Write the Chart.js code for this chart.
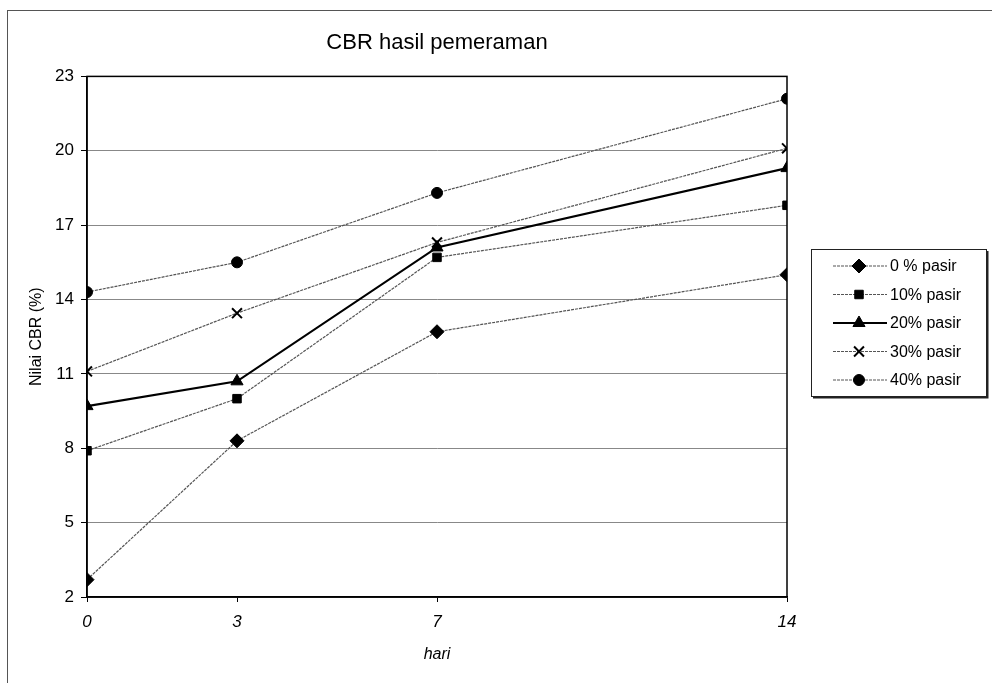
<!DOCTYPE html>
<html>
<head>
<meta charset="utf-8">
<title>CBR hasil pemeraman</title>
<script src="https://cdn.jsdelivr.net/npm/chart.js@4.4.1/dist/chart.umd.min.js"></script>
<style>
  html, body { margin: 0; padding: 0; background: #fff; }
  #wrap { position: relative; width: 992px; height: 683px; }
</style>
</head>
<body>
<div id="wrap"><canvas id="cbr-chart" width="992" height="683"></canvas></div>
<script>
// curing time (days) and CBR values for each sand content
var hari = [0, 3, 7, 14];
var pasir0 = [2.7, 8.3, 12.7, 15.0];
var pasir10 = [7.9, 10.0, 15.7, 17.8];
var pasir20 = [9.7, 10.7, 16.1, 19.3];
var pasir30 = [11.1, 13.45, 16.3, 20.1];
var pasir40 = [14.3, 15.5, 18.3, 22.1];
var seriesLabels = ['0 % pasir', '10% pasir', '20% pasir', '30% pasir', '40% pasir'];
var yTicks = [2, 5, 8, 11, 14, 17, 20, 23];

var FONT = '"Liberation Sans", Arial, sans-serif';

function toPoints(vals) {
  return vals.map(function (v, i) { return {x: hari[i], y: v}; });
}

function series(label, vals, style, radius, solid) {
  return {
    label: label,
    data: toPoints(vals),
    borderColor: solid ? '#000' : '#555',
    borderWidth: solid ? 2.2 : 1.2,
    borderDash: solid ? [] : [3, 1],
    pointStyle: style,
    pointRadius: radius,
    pointHoverRadius: radius,
    pointBackgroundColor: '#000',
    pointBorderColor: '#000',
    pointBorderWidth: style === 'crossRot' ? 2 : 1,
    fill: false,
    tension: 0
  };
}

// white page with the thin outer frame, and the box round the plot
var frame = {
  id: 'frame',
  beforeDraw: function (chart) {
    var ctx = chart.ctx;
    ctx.save();
    ctx.fillStyle = '#fff';
    ctx.fillRect(0, 0, chart.width, chart.height);
    ctx.strokeStyle = '#555';
    ctx.lineWidth = 1;
    ctx.strokeRect(7.5, 10.5, 990, 690);
    ctx.restore();
  },
  afterDraw: function (chart) {
    var a = chart.chartArea, ctx = chart.ctx;
    ctx.save();
    ctx.strokeStyle = '#000';
    ctx.lineWidth = 1.5;
    ctx.strokeRect(a.left, a.top, a.right - a.left, a.bottom - a.top);
    ctx.restore();
  }
};

// legend in a box, each entry is a line sample with its marker
var boxLegend = {
  id: 'boxLegend',
  afterDraw: function (chart) {
    var ctx = chart.ctx;
    var x0 = 811, y0 = 249, w = 175, h = 147;
    ctx.save();
    ctx.strokeStyle = '#222';
    ctx.lineWidth = 1;
    ctx.strokeRect(x0 + 0.5, y0 + 0.5, w, h);
    ctx.lineWidth = 2;
    ctx.beginPath();
    ctx.moveTo(x0 + 2, y0 + h + 1.5);
    ctx.lineTo(x0 + w + 1.5, y0 + h + 1.5);
    ctx.lineTo(x0 + w + 1.5, y0 + 2);
    ctx.stroke();

    ctx.font = '16px ' + FONT;
    ctx.textBaseline = 'middle';
    ctx.textAlign = 'left';
    chart.data.datasets.forEach(function (ds, i) {
      var cy = y0 + 17 + i * 28.5;
      ctx.strokeStyle = ds.borderColor;
      ctx.lineWidth = ds.borderWidth;
      ctx.setLineDash(ds.borderDash);
      ctx.beginPath();
      ctx.moveTo(x0 + 22, cy);
      ctx.lineTo(x0 + 76, cy);
      ctx.stroke();
      ctx.setLineDash([]);
      ctx.fillStyle = '#000';
      ctx.strokeStyle = '#000';
      ctx.lineWidth = ds.pointBorderWidth;
      Chart.helpers.drawPoint(ctx, {
        pointStyle: ds.pointStyle, radius: ds.pointRadius, rotation: 0,
        borderWidth: ds.pointBorderWidth
      }, x0 + 48, cy);
      ctx.fillStyle = '#000';
      ctx.fillText(ds.label, x0 + 79, cy + 1);
    });
    ctx.restore();
  }
};

var ctx = document.getElementById('cbr-chart').getContext('2d');
new Chart(ctx, {
  type: 'line',
  data: {
    datasets: [
      series(seriesLabels[0], pasir0, 'rectRot', 7, false),
      series(seriesLabels[1], pasir10, 'rect', 6, false),
      series(seriesLabels[2], pasir20, 'triangle', 7, true),
      series(seriesLabels[3], pasir30, 'crossRot', 7, false),
      series(seriesLabels[4], pasir40, 'circle', 5.5, false)
    ]
  },
  options: {
    responsive: false,
    animation: false,
    layout: {padding: {left: 0, right: 205, top: 0, bottom: 0}},
    plugins: {
      legend: {display: false},
      tooltip: {enabled: false},
      title: {
        display: true,
        text: 'CBR hasil pemeraman',
        fullSize: false,
        color: '#000',
        font: {family: FONT, size: 22, weight: 'normal'},
        padding: {top: 30, bottom: 20}
      }
    },
    scales: {
      x: {
        type: 'linear',
        min: 0,
        max: 14,
        afterBuildTicks: function (scale) {
          scale.ticks = hari.map(function (v) { return {value: v}; });
        },
        afterFit: function (scale) { scale.height = 86; },
        grid: {drawOnChartArea: false, drawTicks: true, tickLength: 5, color: '#000'},
        border: {color: '#000', width: 1.5},
        ticks: {
          color: '#000',
          padding: 10,
          maxRotation: 0,
          font: {family: FONT, size: 17, style: 'italic'}
        },
        title: {
          display: true,
          text: 'hari',
          color: '#000',
          font: {family: FONT, size: 16, style: 'italic'},
          padding: {top: 0, bottom: 19}
        }
      },
      y: {
        min: 2,
        max: 23,
        afterBuildTicks: function (scale) {
          scale.ticks = yTicks.map(function (v) { return {value: v}; });
        },
        afterFit: function (scale) { scale.width = 87; },
        grid: {color: '#888', lineWidth: 1, tickLength: 6, tickColor: '#000'},
        border: {color: '#000', width: 1.5},
        ticks: {
          color: '#000',
          padding: 7,
          font: {family: FONT, size: 17}
        },
        title: {
          display: true,
          text: 'Nilai CBR (%)',
          color: '#000',
          font: {family: FONT, size: 16},
          padding: {top: 27, bottom: 0}
        }
      }
    }
  },
  plugins: [frame, boxLegend]
});
</script>
</body>
</html>
